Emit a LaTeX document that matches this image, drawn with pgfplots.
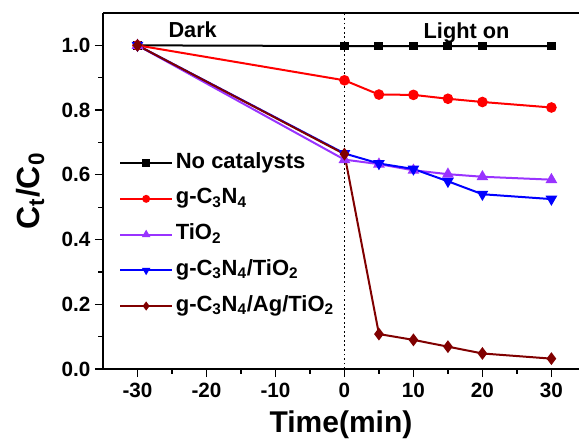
\documentclass[border=0pt]{standalone}
\usepackage{pgfplots}
\pgfplotsset{compat=1.18}
\usepackage{fontspec}
\setmainfont{Liberation Sans}
\definecolor{cviolet}{RGB}{153,51,255}
\definecolor{cwine}{RGB}{128,0,0}
\begin{document}
\begin{tikzpicture}
\begin{axis}[
  scale only axis,
  width=357pt, height=267pt,
  xmin=-35, xmax=34, ymin=0, ymax=1.1,
  axis x line=box, axis y line=left,
  axis line style={-, line width=1.1pt},
  xtick={-30,-20,-10,0,10,20,30},
  minor xtick={-25,-15,-5,5,15,25},
  ytick={0,0.2,0.4,0.6,0.8,1.0},
  minor ytick={0.1,0.3,0.5,0.7,0.9},
  xtick pos=left, ytick pos=left,
  tick align=outside,
  major tick length=6pt, minor tick length=3.5pt,
  every tick/.style={line width=0.9pt, black},
  /pgf/number format/assume math mode=true,
  yticklabel style={/pgf/number format/.cd, fixed, fixed zerofill, precision=1},
  ticklabel style={font=\fontsize{15.5}{18}\selectfont\bfseries},
  xticklabel style={yshift=-1pt},
  xlabel={Time(min)},
  ylabel={C\textsubscript{t}/C\textsubscript{0}},
  xlabel style={font=\fontsize{22.5}{26}\selectfont\bfseries, yshift=-3pt},
  ylabel style={font=\fontsize{24}{28}\selectfont\bfseries, yshift=6pt},
  legend cell align=left,
  legend style={draw=none, fill=none, at={(rel axis cs:0.025,0.625)}, anchor=north west,
    font=\fontsize{16.5}{19}\selectfont\bfseries, row sep=6.3pt,
    nodes={inner sep=2pt, text height=12pt, text depth=4.5pt}},
  legend image code/.code={\draw[mark repeat=2,mark phase=2,#1,mark size=2.2pt] plot coordinates {(0pt,0pt) (19.5pt,0pt) (39pt,0pt)};},
  every axis plot/.append style={line width=1.5pt},
  clip=false,
]
\addplot[black, mark=square*, mark size=2.6pt] coordinates {(-30,1.0) (0,0.998) (5,0.998) (10,0.998) (15,0.998) (20,0.998) (30,0.998)};
\addlegendentry{No catalysts}
\addplot[red, mark=*, mark size=3.2pt] coordinates {(-30,1.0) (0,0.892) (5,0.848) (10,0.847) (15,0.835) (20,0.825) (30,0.808)};
\addlegendentry{g-C\textsubscript{3}N\textsubscript{4}}
\addplot[cviolet, mark=triangle*, mark size=3.6pt] coordinates {(-30,1.0) (0,0.647) (5,0.633) (10,0.614) (15,0.602) (20,0.594) (30,0.585)};
\addlegendentry{TiO\textsubscript{2}}
\addplot[blue, mark=triangle*, mark options={rotate=180}, mark size=3.6pt] coordinates {(-30,1.0) (0,0.666) (5,0.635) (10,0.618) (15,0.580) (20,0.540) (30,0.525)};
\addlegendentry{g-C\textsubscript{3}N\textsubscript{4}/TiO\textsubscript{2}}
\addplot[cwine, mark=diamond*, mark size=3.6pt] coordinates {(-30,1.0) (0,0.664) (5,0.108) (10,0.090) (15,0.069) (20,0.048) (30,0.032)};
\addlegendentry{g-C\textsubscript{3}N\textsubscript{4}/Ag/TiO\textsubscript{2}}
\draw[black, dotted, line width=1.4pt] (axis cs:0,0) -- (axis cs:0,1.1);
\node[font=\fontsize{16.3}{19}\selectfont\bfseries] at (axis cs:-22,1.049) {Dark};
\node[font=\fontsize{16.3}{19}\selectfont\bfseries] at (axis cs:17.7,1.037) {Light on};
\coordinate (bl) at (rel axis cs:0,0);
\coordinate (tr) at (rel axis cs:1,1);
\end{axis}
\pgfresetboundingbox
\path[use as bounding box] ([shift={(-77.25pt,-51.75pt)}]bl) rectangle ([shift={(0.75pt,9.75pt)}]tr);
\end{tikzpicture}
\end{document}
